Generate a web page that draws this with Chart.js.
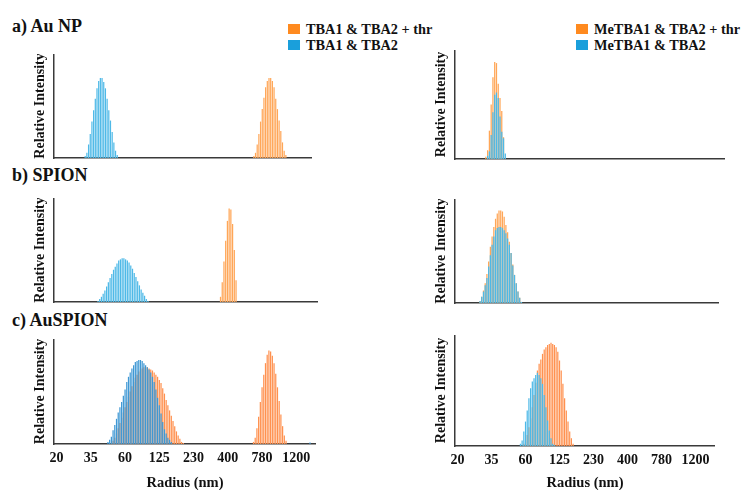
<!DOCTYPE html>
<html>
<head>
<meta charset="utf-8">
<script src="https://cdn.jsdelivr.net/npm/chart.js@4.4.1/dist/chart.umd.min.js"></script>
<style>
html, body { margin:0; padding:0; background:#fff; }
body { width:744px; height:490px; overflow:hidden; position:relative; font-family:"Liberation Serif","Times New Roman",serif; color:#111; }
.ptitle { position:absolute; font-weight:bold; font-size:18px; line-height:18px; white-space:nowrap; }
.leg { position:absolute; font-weight:bold; font-size:14.3px; line-height:16px; white-space:nowrap; }
.leg .row { display:flex; align-items:center; height:16px; }
.leg .sw { display:inline-block; width:12px; height:10px; margin-right:6px; }
canvas { position:absolute; }
</style>
</head>
<body>
<div class="ptitle" style="left:12px;top:17px;">a) Au NP</div>
<div class="ptitle" style="left:12px;top:166px;">b) SPION</div>
<div class="ptitle" style="left:12px;top:311px;">c) AuSPION</div>
<div class="leg" style="left:288px;top:21px;">
  <div class="row"><span class="sw" style="background:#FF8A1F"></span><span>TBA1 &amp; TBA2 + thr</span></div>
  <div class="row"><span class="sw" style="background:#1A9FDB"></span><span>TBA1 &amp; TBA2</span></div>
</div>
<div class="leg" style="left:576px;top:21px;">
  <div class="row"><span class="sw" style="background:#FF8A1F"></span><span>MeTBA1 &amp; TBA2 + thr</span></div>
  <div class="row"><span class="sw" style="background:#1A9FDB"></span><span>MeTBA1 &amp; TBA2</span></div>
</div>
<script>
// ---------- axis / categories ----------
const tickLabels = ['20', '35', '60', '125', '230', '400', '780', '1200'];
const binCount = 153;      // number of size bins (categories)
const firstTickBin = 1;    // bin carrying the first tick label
const binsPerTick = 20;    // bins between labelled ticks

const nameTbaThr = 'TBA1 & TBA2 + thr';
const nameTba = 'TBA1 & TBA2';
const nameMeThr = 'MeTBA1 & TBA2 + thr';
const nameMe = 'MeTBA1 & TBA2';

// ---------- a) Au NP (relative intensity, % of axis height) ----------
const auNpTbaThrStart = 118;
const auNpTbaThr = [2, 5, 13, 23, 35, 47, 58, 68, 74, 77, 77, 74, 68, 57, 47, 36, 26, 15, 7, 3];
const auNpTbaStart = 18;
const auNpTba = [2, 5, 13, 23, 35, 46, 57, 67, 74, 77, 77, 73, 67, 57, 46, 36, 25, 15, 7, 3];
const auNpMeThrStart = 17;
const auNpMeThr = [2, 8, 26, 50, 75, 89, 88, 69, 56, 44, 20];
const auNpMeStart = 18;
const auNpMe = [3, 7, 22, 43, 59, 61, 56, 39, 25, 19, 5];

// ---------- b) SPION ----------
const spionTbaThrStart = 96;
const spionTbaThr = [5, 19, 39, 59, 78, 90, 89, 75, 50, 21];
const spionTbaStart = 25;
const spionTba = [1, 3, 5, 8, 11, 15, 19, 23, 27, 31, 34, 37, 40, 41, 42, 42, 41, 40, 38, 35, 32, 28, 24, 20, 16, 12, 9, 6, 3, 1];
const spionMeThrStart = 14;
const spionMeThr = [2, 6, 12, 19, 28, 40, 54, 64, 73, 81, 86, 89, 89, 88, 83, 75, 68, 59, 48, 37, 27, 19, 11, 5, 1];
const spionMeStart = 14;
const spionMe = [2, 6, 11, 17, 24, 35, 46, 56, 64, 70, 72, 73, 73, 72, 70, 67, 62, 56, 48, 36, 27, 19, 11, 5, 1];

// ---------- c) AuSPION ----------
const auSpionTbaThrStart = 33;
const auSpionTbaThr = [1, 3, 6, 10, 15, 20, 25, 30, 35, 40, 45, 50, 55, 59, 63, 66, 69, 71, 72, 73, 73, 73, 72, 71, 70, 68, 66, 64, 61, 58, 53, 48, 42, 37, 32, 27, 22, 17, 12, 8, 5, 2, 1];
const auSpionTbaThr2Start = 116;
const auSpionTbaThr2 = [2, 6, 15, 26, 40, 54, 66, 77, 85, 89, 88, 84, 77, 67, 54, 41, 28, 17, 8, 3];
const auSpionTbaStart = 31;
const auSpionTba = [2, 4, 7, 13, 18, 24, 30, 35, 40, 46, 52, 59, 64, 68, 72, 75, 78, 79, 80, 80, 79, 77, 75, 73, 71, 68, 64, 59, 52, 44, 37, 29, 21, 14, 10, 6, 4, 2];
const auSpionTbaTailStart = 149;
const auSpionTbaTail = [1.5];
const auSpionMeThrStart = 40;
const auSpionMeThr = [2, 5, 10, 17, 25, 35, 46, 57, 68, 74, 78, 83, 87, 89, 91, 92, 93, 92, 91, 89, 85, 77, 68, 56, 43, 32, 22, 13, 7, 2];
const auSpionMeStart = 38;
const auSpionMe = [2, 5, 13, 22, 32, 43, 52, 58, 61, 64, 66, 64, 61, 56, 46, 35, 23, 14, 7, 2, 1];

// ---------- build full-length series ----------
const bins = Array.from({ length: binCount }, (_, i) => String(i));
function series(...segs) {
  const out = new Array(binCount).fill(null);
  segs.forEach(([start, vals]) => vals.forEach((v, i) => { out[start + i] = v; }));
  return out;
}

const ORANGE = '#FFA657';
const BLUE = '#4EB9E7';
const ORANGE_C = '#FF914F';
const BLUE_C = '#3F98D4';
const AXIS = '#3a3a3a';
const SERIF = '"Liberation Serif", "Times New Roman", serif';

const panels = [
  { box: { l: 54, r: 312, t: 54, b: 158 }, xLabels: false, colors: [BLUE, ORANGE],
    blue: { name: nameTba, data: series([auNpTbaStart, auNpTba]) },
    orange: { name: nameTbaThr, data: series([auNpTbaThrStart, auNpTbaThr]) } },
  { box: { l: 455, r: 725, t: 50, b: 159 }, xLabels: false, colors: [BLUE, ORANGE],
    blue: { name: nameMe, data: series([auNpMeStart, auNpMe]) },
    orange: { name: nameMeThr, data: series([auNpMeThrStart, auNpMeThr]) } },
  { box: { l: 54, r: 318, t: 198, b: 302 }, xLabels: false, colors: [BLUE, ORANGE],
    blue: { name: nameTba, data: series([spionTbaStart, spionTba]) },
    orange: { name: nameTbaThr, data: series([spionTbaThrStart, spionTbaThr]) } },
  { box: { l: 455, r: 719, t: 199, b: 303 }, xLabels: false, colors: [BLUE, ORANGE],
    blue: { name: nameMe, data: series([spionMeStart, spionMe]) },
    orange: { name: nameMeThr, data: series([spionMeThrStart, spionMeThr]) } },
  { box: { l: 54, r: 316, t: 339, b: 444 }, xLabels: true, colors: [BLUE_C, ORANGE_C],
    blue: { name: nameTba, data: series([auSpionTbaStart, auSpionTba], [auSpionTbaTailStart, auSpionTbaTail]) },
    orange: { name: nameTbaThr, data: series([auSpionTbaThrStart, auSpionTbaThr], [auSpionTbaThr2Start, auSpionTbaThr2]) } },
  { box: { l: 455, r: 715, t: 335, b: 446 }, xLabels: true, colors: [BLUE, ORANGE_C],
    blue: { name: nameMe, data: series([auSpionMeStart, auSpionMe]) },
    orange: { name: nameMeThr, data: series([auSpionMeThrStart, auSpionMeThr]) } }
];

const yAxisWidth = 30;

panels.forEach(p => {
  const xh = p.xLabels ? (492 - p.box.b) : 4;
  const L = p.box.l - yAxisWidth;
  const W = p.box.r - L;
  const H = p.box.b - p.box.t + xh;
  const c = document.createElement('canvas');
  c.width = W; c.height = H;
  c.style.left = L + 'px'; c.style.top = p.box.t + 'px';
  c.style.width = W + 'px'; c.style.height = H + 'px';
  document.body.appendChild(c);
  const barOpts = { grouped: false, barPercentage: 0.72, categoryPercentage: 1, borderWidth: 0 };
  new Chart(c, {
    type: 'bar',
    data: {
      labels: bins,
      datasets: [
        Object.assign({ label: p.blue.name, data: p.blue.data, backgroundColor: p.colors[0] }, barOpts),
        Object.assign({ label: p.orange.name, data: p.orange.data, backgroundColor: p.colors[1] }, barOpts)
      ]
    },
    options: {
      responsive: false, animation: false, devicePixelRatio: 1,
      layout: { padding: 0 },
      plugins: { legend: { display: false }, tooltip: { enabled: false } },
      scales: {
        x: {
          grid: { display: false, drawTicks: true, tickLength: 6 },
          border: { display: true, color: AXIS, width: 1.5 },
          ticks: {
            display: p.xLabels, autoSkip: false, maxRotation: 0, minRotation: 0, padding: 0,
            color: '#111', font: { family: SERIF, size: 14, weight: 'bold' },
            callback: (v, i) => {
              const k = (i - firstTickBin) / binsPerTick;
              return (Number.isInteger(k) && k >= 0 && k < tickLabels.length) ? tickLabels[k] : '';
            }
          },
          title: { display: p.xLabels, text: 'Radius (nm)', color: '#111',
                   font: { family: SERIF, size: 14.5, weight: 'bold' }, padding: { top: 0, bottom: 0 } },
          afterFit: s => { s.height = xh; }
        },
        y: {
          min: 0, max: 100,
          grid: { display: false, drawTicks: false },
          border: { display: true, color: AXIS, width: 1.5 },
          ticks: { display: false },
          title: { display: true, text: 'Relative Intensity', color: '#111',
                   font: { family: SERIF, size: 14, weight: 'bold' }, padding: { top: 7.6, bottom: 0 } },
          afterFit: s => { s.width = yAxisWidth; }
        }
      }
    }
  });
});
</script>
</body>
</html>
